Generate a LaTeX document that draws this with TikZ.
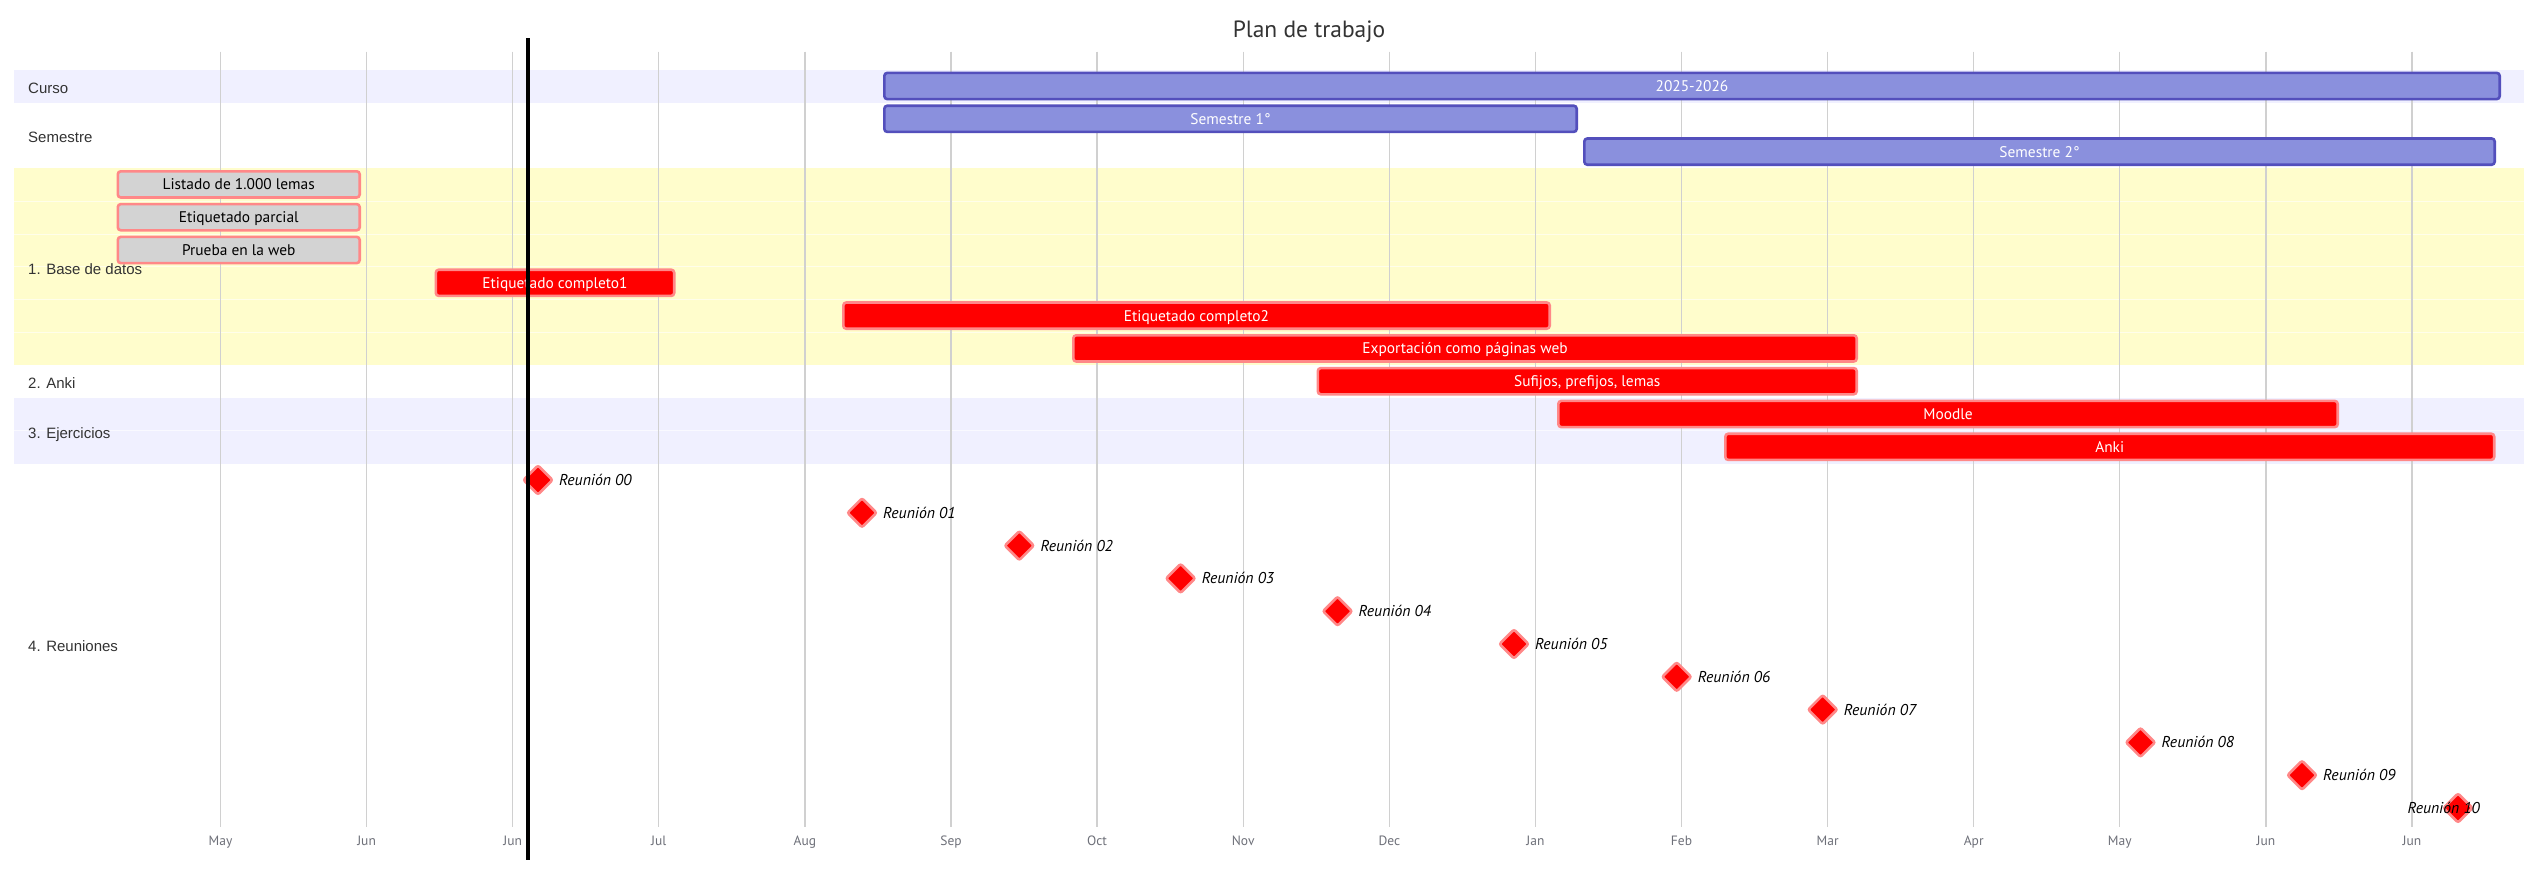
\documentclass[tikz,border=0pt]{standalone}
\usepackage{fontspec}
\setmainfont{PT Sans}
\newfontfamily\secfont{Liberation Sans}
\usetikzlibrary{shapes.geometric}
\definecolor{barfill}{HTML}{8A90DD}
\definecolor{barborder}{HTML}{534FBC}
\definecolor{critborder}{HTML}{FF8888}
\definecolor{donefill}{HTML}{D3D3D3}
\definecolor{critfill}{HTML}{FF0000}
\definecolor{lav}{HTML}{F0F0FF}
\definecolor{yel}{HTML}{FFFDCC}
\definecolor{gridc}{HTML}{D0D0D0}
\definecolor{textdark}{HTML}{333333}
\definecolor{tickc}{HTML}{6E7079}
\newcommand\ganttbar[6]{%
  \pgfmathsetmacro\gbx{(#3+#4)/2}%
  \pgfmathsetmacro\gbw{#4-#3-2.6}%
  \pgfmathsetmacro\gby{70+32.8*#5+16}%
  \node[#2, minimum width=\gbw pt] (#1) at (\gbx,\gby) {#6};%
}
\newcommand\milestonemark[4]{% name, cx, k, text
  \pgfmathsetmacro\mky{480+32.8*#3}%
  \node[milestone] (#1) at (#2,\mky) {};%
  \node[mslabel] (#1lbl) at ([xshift=21pt]#1.center) {#4};%
}
\begin{document}
\begin{tikzpicture}[x=1pt,y=-1pt,
  bartext/.style={font=\fontsize{15.4}{18}\selectfont, text height=10.8pt, text depth=0pt},
  barbase/.style={bartext, line width=2.6pt, rounded corners=3pt, inner sep=0pt, minimum height=26.2pt},
  purplebar/.style={barbase, draw=barborder, fill=barfill, text=white},
  donebar/.style={barbase, draw=critborder, fill=donefill, text=black},
  critbar/.style={barbase, draw=critborder, fill=critfill, text=white},
  milestone/.style={diamond, aspect=1, draw=critborder, fill=critfill, line width=2.6pt, minimum size=30pt, inner sep=0pt, rounded corners=2pt},
  mslabel/.style={anchor=west, inner sep=0pt, font=\itshape\fontsize{15.7}{18}\selectfont, text height=11pt, text depth=0pt, text=black},
  seclabel/.style={anchor=west, inner sep=0pt, font=\secfont\fontsize{15}{18}\selectfont, text height=10.7pt, text depth=0pt, text=textdark},
  ticklabel/.style={inner sep=0pt, font=\fontsize{13.5}{16}\selectfont, text height=9.4pt, text depth=0pt, text=tickc},
  gridline/.style={draw=gridc, line width=1.3pt},
  todayline/.style={draw=black, line width=4pt},
  titlestyle/.style={inner sep=0pt, font=\fontsize{23.5}{28}\selectfont, text height=16pt, text depth=0pt, text=textdark}
]
\useasboundingbox (0,0) rectangle (2524,876);
\fill[white] (0,0) rectangle (2524,876);
% section bands
\fill[lav] (14,70) rectangle (2524,102.8);
\fill[yel] (14,168.4) rectangle (2524,365.2);
\fill[lav] (14,398) rectangle (2524,463.6);
\foreach \yy in {201.2,234,266.8,299.6,332.4,430.8}
  \draw[white, opacity=0.6, line width=0.8pt] (14,\yy) -- (2524,\yy);
% grid and ticks
\foreach \m [count=\k from 0] in {May,Jun,Jun,Jul,Aug,Sep,Oct,Nov,Dec,Jan,Feb,Mar,Apr,May,Jun,Jun}{
  \pgfmathsetmacro\gx{220.5+146.1*\k}
  \coordinate (gt\k) at (\gx,51.7);
  \coordinate (gb\k) at (\gx,826.7);
  \draw[gridline] (gt\k) -- (gb\k);
  \node[ticklabel] (tick\k) at (\gx,840.5) {\m};
}
% title
\node[titlestyle] (title) at (1309,29.5) {Plan de trabajo};
% section labels
\node[seclabel] (sCurso) at (28,88.4) {Curso};
\node[seclabel] (sSemestre) at (28,137.6) {Semestre};
\node[seclabel] (sBase) at (28,268.8) {1. Base de datos};
\node[seclabel] (sAnki) at (28,383.6) {2. Anki};
\node[seclabel] (sEjer) at (28,432.8) {3. Ejercicios};
\node[seclabel] (sReun) at (28,646) {4. Reuniones};
% bars
\ganttbar{curso}{purplebar}{883}{2501}{0}{2025-2026}
\ganttbar{sem1}{purplebar}{883}{1578}{1}{Semestre 1°}
\ganttbar{sem2}{purplebar}{1583}{2496}{2}{Semestre 2°}
\ganttbar{listado}{donebar}{116.5}{361}{3}{Listado de 1.000 lemas}
\ganttbar{parcial}{donebar}{116.5}{361}{4}{Etiquetado parcial}
\ganttbar{prueba}{donebar}{116.5}{361}{5}{Prueba en la web}
\ganttbar{comp1}{critbar}{434.5}{675.5}{6}{Etiquetado completo1}
\ganttbar{comp2}{critbar}{842}{1551}{7}{Etiquetado completo2}
\ganttbar{export}{critbar}{1072}{1858}{8}{Exportación como páginas web}
\ganttbar{sufijos}{critbar}{1316.5}{1858}{9}{Sufijos, prefijos, lemas}
\ganttbar{moodle}{critbar}{1557}{2339}{10}{Moodle}
\ganttbar{anki}{critbar}{1724}{2495.5}{11}{Anki}
% milestones
\milestonemark{r00}{538}{0}{Reunión 00}
\milestonemark{r01}{862}{1}{Reunión 01}
\milestonemark{r02}{1019.3}{2}{Reunión 02}
\milestonemark{r03}{1180.6}{3}{Reunión 03}
\milestonemark{r04}{1337.5}{4}{Reunión 04}
\milestonemark{r05}{1514}{5}{Reunión 05}
\milestonemark{r06}{1676.7}{6}{Reunión 06}
\milestonemark{r07}{1822.7}{7}{Reunión 07}
\milestonemark{r08}{2140.5}{8}{Reunión 08}
\milestonemark{r09}{2302}{9}{Reunión 09}
\node[milestone] (r10) at (2458,808) {};
\node[mslabel, anchor=east] (r10lbl) at (2480,808) {Reunión 10};
% today marker
\coordinate (todayTop) at (528,38.3);
\coordinate (todayBot) at (528,860);
\draw[todayline] (todayTop) -- (todayBot);
\end{tikzpicture}
\end{document}
